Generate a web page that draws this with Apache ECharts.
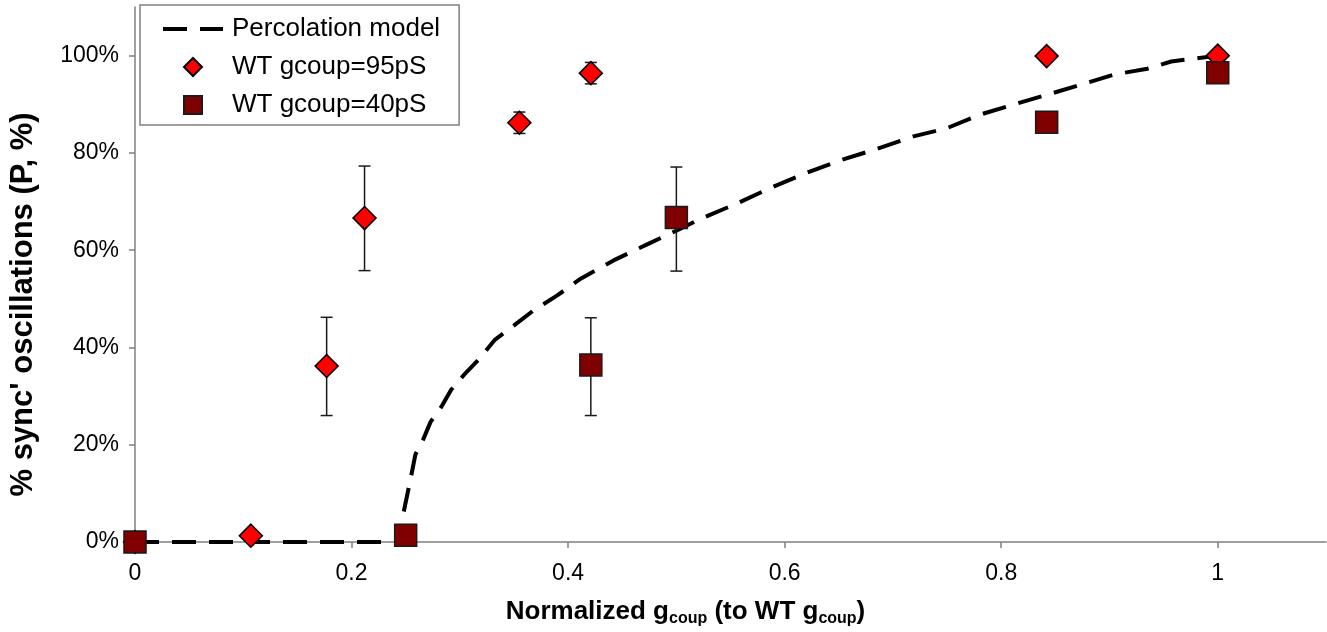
<!DOCTYPE html>
<html>
<head>
<meta charset="utf-8">
<script src="https://cdn.jsdelivr.net/npm/echarts@6/dist/echarts.min.js"></script>
<style>
  html, body { margin: 0; padding: 0; background: #fff; }
  #chart { width: 1327px; height: 632px; }
</style>
</head>
<body>
<div id="chart"></div>
<script>
// percolation model curve
var curveX = [0, 0.05, 0.1, 0.15, 0.2, 0.245, 0.248, 0.255, 0.259, 0.266, 0.273, 0.283, 0.292, 0.304, 0.317, 0.332, 0.354, 0.368, 0.39, 0.412, 0.442, 0.474, 0.5, 0.523, 0.557, 0.587, 0.618, 0.649, 0.682, 0.719, 0.75, 0.781, 0.812, 0.843, 0.873, 0.904, 0.935, 0.957, 1];
var curveY = [0, 0, 0, 0, 0, 0, 6, 13.5, 18, 21, 24.7, 27.8, 31.3, 34.4, 37.4, 41.5, 45.2, 47.6, 50.7, 54.2, 57.9, 61.3, 64, 66.5, 69.7, 72.8, 75.7, 78.3, 80.6, 83.4, 85.1, 87.9, 90, 92, 94, 96.1, 97.3, 98.8, 100];

// WT gcoup=95pS
var x95 = [0, 0.107, 0.177, 0.212, 0.355, 0.421, 0.842, 1];
var y95 = [0, 1.3, 36.2, 66.6, 86.2, 96.4, 99.9, 100];
var errX95 = [0.177, 0.212, 0.355, 0.421];
var errLo95 = [26.0, 55.8, 84.0, 94.2];
var errHi95 = [46.2, 77.3, 88.4, 98.6];

// WT gcoup=40pS
var x40 = [0, 0.25, 0.421, 0.5, 0.842, 1];
var y40 = [0, 1.4, 36.4, 66.7, 86.3, 96.5];
var errX40 = [0.421, 0.5];
var errLo40 = [26.0, 55.7];
var errHi40 = [46.1, 77.1];

var xTicks = [0, 0.2, 0.4, 0.6, 0.8, 1];
var yTicks = [0, 20, 40, 60, 80, 100];

var FONT = "'Liberation Sans', Arial, sans-serif";

function zip(a, b) {
  return a.map(function (v, i) { return [v, b[i]]; });
}
function zip3(a, b, c) {
  return a.map(function (v, i) { return [v, b[i], c[i]]; });
}

function renderErr(params, api) {
  var x = api.value(0);
  var lo = api.coord([x, api.value(1)]);
  var hi = api.coord([x, api.value(2)]);
  var w = 6;
  var st = { stroke: '#1a1a1a', lineWidth: 1.5 };
  return {
    type: 'group',
    children: [
      { type: 'line', shape: { x1: lo[0], y1: lo[1], x2: hi[0], y2: hi[1] }, style: st },
      { type: 'line', shape: { x1: lo[0] - w, y1: lo[1], x2: lo[0] + w, y2: lo[1] }, style: st },
      { type: 'line', shape: { x1: hi[0] - w, y1: hi[1], x2: hi[0] + w, y2: hi[1] }, style: st }
    ]
  };
}

var myChart = echarts.init(document.getElementById('chart'));
var option = {
  animation: false,
  backgroundColor: '#fff',
  textStyle: { fontFamily: FONT },
  grid: { left: 134, top: 7, right: 1, bottom: 89 },
  legend: {
    orient: 'vertical',
    left: 140,
    top: 5,
    padding: [11, 19, 7, 23],
    itemGap: 12,
    itemWidth: 60,
    itemHeight: 18,
    symbolKeepAspect: true,
    borderColor: '#808080',
    borderWidth: 1.5,
    backgroundColor: '#fff',
    textStyle: { fontSize: 26, color: '#000', fontFamily: FONT, padding: [0, 0, 0, 4] },
    data: [
      { name: 'Percolation model', icon: 'path://M0,0 h24 v4 h-24 z M37,0 h23 v4 h-23 z', itemStyle: { color: '#000', borderWidth: 0 } },
      { name: 'WT gcoup=95pS', icon: 'path://M9,0 L18,9 L9,18 L0,9 Z' },
      { name: 'WT gcoup=40pS', icon: 'path://M0,0 h17 v17 h-17 z' }
    ]
  },
  xAxis: {
    type: 'value',
    min: 0,
    max: 1.1,
    name: 'Normalized g{s|coup} (to WT g{s|coup})',
    nameLocation: 'middle',
    nameGap: 55,
    nameTextStyle: {
      fontSize: 26,
      fontWeight: 'bold',
      color: '#000',
      fontFamily: FONT,
      padding: [0, 90, 0, 0],
      rich: {
        s: { fontSize: 16, fontWeight: 'bold', fontFamily: FONT, color: '#000', padding: [14, 0, 0, 0], verticalAlign: 'bottom' }
      }
    },
    axisLine: { lineStyle: { color: '#808080', width: 1.5 } },
    axisTick: { show: true, inside: false, length: 6, lineStyle: { color: '#808080', width: 1.5 }, customValues: xTicks },
    axisLabel: { fontSize: 23, color: '#000', margin: 20, fontFamily: FONT, customValues: xTicks },
    splitLine: { show: false }
  },
  yAxis: {
    type: 'value',
    min: 0,
    max: 110,
    name: "% sync' oscillations (P, %)",
    nameLocation: 'middle',
    nameRotate: 90,
    nameGap: 96,
    nameTextStyle: {
      fontSize: 31,
      fontWeight: 'bold',
      color: '#000',
      fontFamily: FONT,
      padding: [0, 60, 0, 0]
    },
    axisLine: { show: true, lineStyle: { color: '#808080', width: 1.5 } },
    axisTick: { show: true, inside: false, length: 6, lineStyle: { color: '#808080', width: 1.5 }, customValues: yTicks },
    axisLabel: {
      fontSize: 23, color: '#000', margin: 16, fontFamily: FONT, customValues: yTicks,
      formatter: function (v) { return v + '%'; }
    },
    splitLine: { show: false }
  },
  series: [
    {
      name: 'Percolation model',
      type: 'line',
      data: zip(curveX, curveY),
      showSymbol: false,
      symbol: 'none',
      smooth: false,
      z: 2,
      lineStyle: { color: '#000', width: 4, type: [24, 13] },
      itemStyle: { color: '#000' }
    },
    {
      name: 'err95',
      type: 'custom',
      renderItem: renderErr,
      data: zip3(errX95, errLo95, errHi95),
      z: 3
    },
    {
      name: 'err40',
      type: 'custom',
      renderItem: renderErr,
      data: zip3(errX40, errLo40, errHi40),
      z: 3
    },
    {
      name: 'WT gcoup=95pS',
      type: 'scatter',
      data: zip(x95, y95),
      symbol: 'diamond',
      symbolSize: 23,
      z: 4,
      itemStyle: { color: '#ff0000', borderColor: '#000', borderWidth: 1.5, opacity: 1 }
    },
    {
      name: 'WT gcoup=40pS',
      type: 'scatter',
      data: zip(x40, y40),
      symbol: 'rect',
      symbolSize: 22,
      z: 5,
      itemStyle: { color: '#800000', borderColor: '#1a1a1a', borderWidth: 1.5, opacity: 1 }
    }
  ]
};
option && myChart.setOption(option);
</script>
</body>
</html>
